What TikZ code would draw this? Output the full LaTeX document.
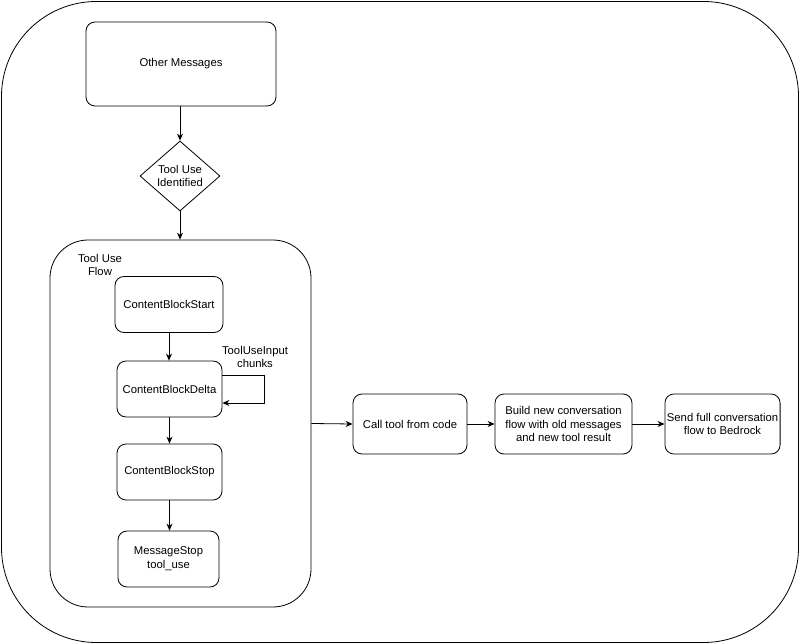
\documentclass[tikz,border=0pt]{standalone}
\usepackage{fontspec}
\setmainfont{Liberation Sans}
\usetikzlibrary{shapes.geometric,arrows.meta}
\begin{document}
\begin{tikzpicture}[x=1pt,y=-1pt,
  every node/.style={font=\fontsize{11.3}{13.8}\selectfont, align=center},
  box/.style={draw, line width=0.8pt, rounded corners=9pt, inner sep=2pt},
  arr/.style={draw, line width=0.8pt, -{Stealth[length=7pt,width=6pt]}},
  plain/.style={inner sep=0pt}]
\useasboundingbox (0,0) rectangle (800,644);
\node[draw, line width=0.8pt, rounded corners=95pt, minimum width=797pt, minimum height=641pt] (outer) at (400,322) {};
\node[box, minimum width=190pt, minimum height=84pt] (om) at (181,64) {Other Messages};
\node[draw, diamond, line width=0.8pt, minimum width=80pt, minimum height=70pt, inner sep=0pt] (dec) at (180,176) {};
\node[plain] (dectext) at (dec) {Tool Use\\Identified};
\node[draw, line width=0.8pt, rounded corners=38pt, minimum width=261pt, minimum height=367pt] (flow) at (180.5,423.5) {};
\node[plain] (flowlabel) at (100,265) {Tool Use\\Flow};
\node[box, minimum width=108pt, minimum height=56pt] (cbs) at (169,304.5) {ContentBlockStart};
\node[box, minimum width=105pt, minimum height=56pt] (cbd) at (169.5,389) {ContentBlockDelta};
\node[box, minimum width=105pt, minimum height=56pt] (cbstop) at (169.5,472) {ContentBlockStop};
\node[box, minimum width=101pt, minimum height=56pt] (ms) at (168.5,559) {MessageStop\\tool\_use};
\node[plain] (chunks) at (255,357) {ToolUseInput\\chunks};
\node[box, minimum width=114pt, minimum height=60pt] (call) at (410,424) {Call tool from code};
\node[box, minimum width=137pt, minimum height=60pt] (build) at (563.5,424) {Build new conversation\\flow with old messages\\and new tool result};
\node[box, minimum width=115pt, minimum height=60pt] (send) at (722.5,424) {Send full conversation\\flow to Bedrock};
\draw[arr] (om.south -| dec.north) -- (dec.north);
\draw[arr] (dec.south) -- (dec.south |- flow.north);
\draw[arr] (cbs.south) -- (cbs.south |- cbd.north);
\draw[arr] ([yshift=14pt]cbd.east) -- ++(42,0) |- ([yshift=-14pt]cbd.east);
\draw[arr] (cbd.south) -- (cbd.south |- cbstop.north);
\draw[arr] (cbstop.south) -- (cbstop.south |- ms.north);
\draw[arr] (flow.east) -- (call.west);
\draw[arr] (call.east) -- (build.west);
\draw[arr] (build.east) -- (send.west);
\end{tikzpicture}
\end{document}
